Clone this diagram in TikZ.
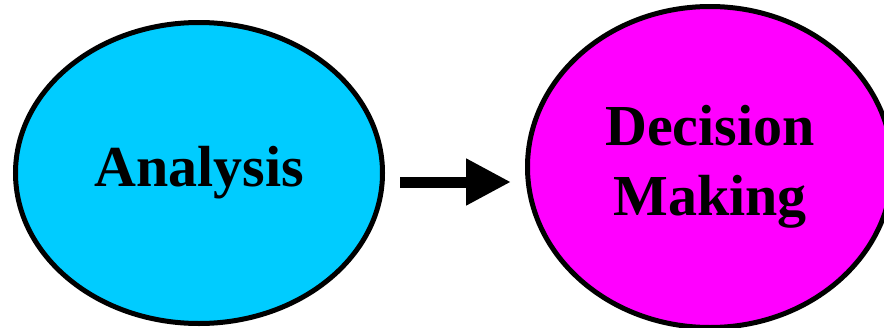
\documentclass[tikz,border=0pt]{standalone}
\usepackage{fontspec}
\setmainfont{Liberation Serif}
\usepackage{xcolor}
\usetikzlibrary{shapes.geometric, arrows.meta, positioning}
\definecolor{skycyan}{HTML}{00CCFF}
\definecolor{brightmag}{HTML}{FF00FF}

\begin{document}
\begin{tikzpicture}[x=1pt, y=-1pt,
    every node/.style={font=\fontsize{58}{70}\selectfont\bfseries, align=center},
    stage/.style={draw=black, ellipse, line width=5pt, inner sep=0pt}]
        \useasboundingbox (0,0) rectangle (884,327);
        \node[stage, fill=skycyan, minimum width=367pt, minimum height=301pt] (analysis) at (199,173) {Analysis};
        \node[stage, fill=brightmag, minimum width=365pt, minimum height=321pt] (decision) at (710,167) {Decision\\Making};
        % thick arrow between the two stages
        \draw[line width=11pt, -{Triangle[length=45pt, width=44pt]}, shorten <=15pt, shorten >=14pt]
            ([yshift=-9pt]analysis.east) -- ([yshift=-9pt]analysis.east -| decision.west);
    \end{tikzpicture}
\end{document}
